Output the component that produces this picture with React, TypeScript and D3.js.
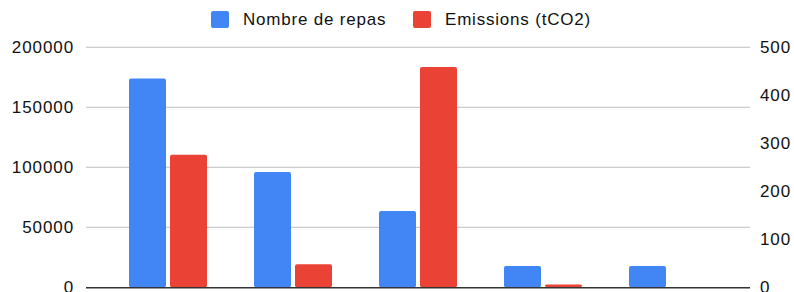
import React, { useEffect, useRef } from "react";
import * as d3 from "d3";

// categories have no visible labels in the reference
const categories = ["c1", "c2", "c3", "c4", "c5"];
const repas = [174000, 96000, 63500, 17800, 17800];
const emissions = [276, 48, 459, 6, 0];
const leftTicks = [0, 50000, 100000, 150000, 200000];
const rightTicks = [0, 100, 200, 300, 400, 500];
const seriesNames = ["Nombre de repas", "Emissions (tCO2)"];
const colors = ["#4285F4", "#EA4335"];

const W = 794;
const H = 292;

export default function App() {
  const ref = useRef<SVGSVGElement>(null);

  useEffect(() => {
    const svg = d3.select(ref.current);
    svg.selectAll("*").remove();

    const gridLeft = 86, gridRight = 750;
    const top = 47.3, bottom = 287.3;
    const font = "'Liberation Sans', Arial, sans-serif";

    const x = d3.scaleBand().domain(categories).range([105.5, 730.5]).paddingInner(0).paddingOuter(0);
    const yL = d3.scaleLinear().domain([0, 200000]).range([bottom, top]);
    const yR = d3.scaleLinear().domain([0, 500]).range([bottom, top]);

    // grid lines
    svg.append("g")
      .selectAll("line")
      .data(leftTicks.filter(d => d > 0))
      .join("line")
      .attr("x1", gridLeft)
      .attr("x2", gridRight)
      .attr("y1", d => yL(d))
      .attr("y2", d => yL(d))
      .attr("stroke", "#cccccc")
      .attr("stroke-width", 1.2);

    // left labels
    svg.append("g")
      .selectAll("text")
      .data(leftTicks)
      .join("text")
      .attr("x", 74)
      .attr("y", d => yL(d) + 6)
      .attr("text-anchor", "end")
      .style("font-family", font)
      .style("font-size", "17px")
      .style("letter-spacing", "0.9px")
      .attr("fill", "#111")
      .text(d => String(d));

    // right labels
    svg.append("g")
      .selectAll("text")
      .data(rightTicks)
      .join("text")
      .attr("x", 760)
      .attr("y", d => yR(d) + 6)
      .attr("text-anchor", "start")
      .style("font-family", font)
      .style("font-size", "17px")
      .style("letter-spacing", "0.9px")
      .attr("fill", "#111")
      .text(d => String(d));

    const bw = 37, gap = 4;
    const groups = svg.append("g");

    groups.selectAll("rect.repas")
      .data(categories.map((c, i) => ({ c, v: repas[i] })))
      .join("rect")
      .attr("class", "repas")
      .attr("x", d => (x(d.c) as number) + x.bandwidth() / 2 - gap / 2 - bw)
      .attr("y", d => yL(d.v))
      .attr("width", bw)
      .attr("height", d => bottom - yL(d.v))
      .attr("rx", 2)
      .attr("fill", colors[0]);

    groups.selectAll("rect.em")
      .data(categories.map((c, i) => ({ c, v: emissions[i] })).filter(d => d.v > 0))
      .join("rect")
      .attr("class", "em")
      .attr("x", d => (x(d.c) as number) + x.bandwidth() / 2 + gap / 2)
      .attr("y", d => yR(d.v))
      .attr("width", bw)
      .attr("height", d => bottom - yR(d.v))
      .attr("rx", 2)
      .attr("fill", colors[1]);

    // baseline
    svg.append("line")
      .attr("x1", gridLeft)
      .attr("x2", gridRight)
      .attr("y1", bottom + 0.5)
      .attr("y2", bottom + 0.5)
      .attr("stroke", "#333")
      .attr("stroke-width", 1.5);

    // legend
    const legendX = [211, 413];
    const lg = svg.append("g")
      .selectAll("g")
      .data(seriesNames)
      .join("g")
      .attr("transform", (d, i) => `translate(${legendX[i]},11)`);
    lg.append("rect")
      .attr("width", 18)
      .attr("height", 17)
      .attr("rx", 2)
      .attr("fill", (d, i) => colors[i]);
    lg.append("text")
      .attr("x", 32)
      .attr("y", 14)
      .style("font-family", font)
      .style("font-size", "17px")
      .style("letter-spacing", "0.8px")
      .attr("fill", "#111")
      .text(d => d);
  }, []);

  return (
    <svg ref={ref} width={W} height={H} style={{ position: "absolute", left: 0, top: 0, background: "#fff" }} />
  );
}
